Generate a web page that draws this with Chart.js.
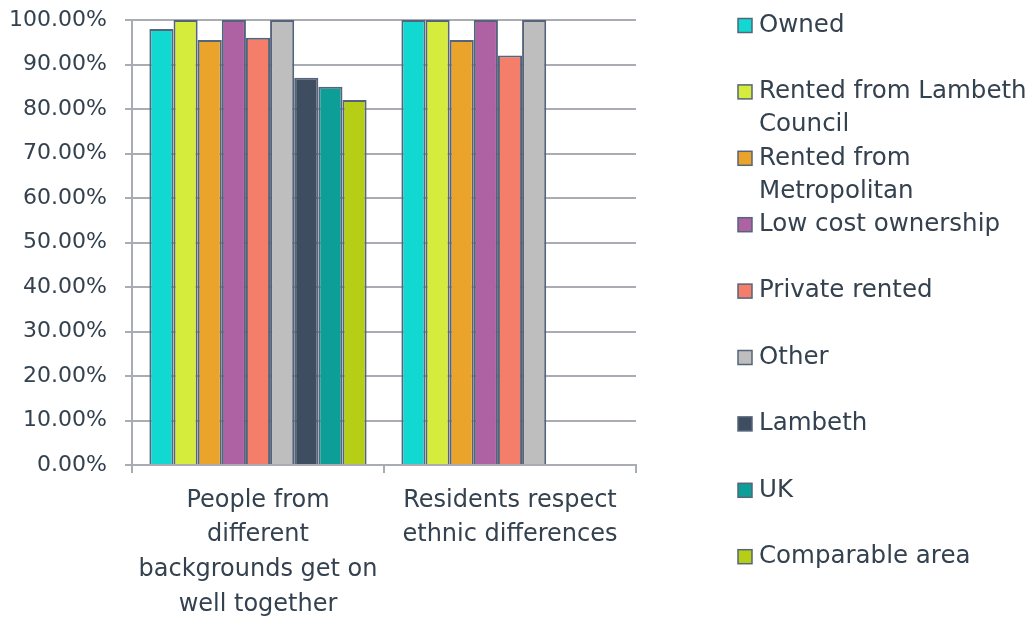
<!DOCTYPE html>
<html>
<head>
<meta charset="utf-8">
<script src="https://cdn.jsdelivr.net/npm/chart.js@4/dist/chart.umd.min.js"></script>
<style>
  html, body { margin: 0; padding: 0; background: #fff; }
  #wrap { width: 1032px; height: 617px; position: relative; }
</style>
</head>
<body>
<div id="wrap"><canvas id="chart"></canvas></div>
<script>
// Survey statements (x categories)
const categories = [
  ['People from', 'different', 'backgrounds get on', 'well together'],
  ['Residents respect', 'ethnic differences']
];

// Tenure groups and comparison areas
const seriesNames = [
  'Owned',
  'Rented from Lambeth Council',
  'Rented from Metropolitan',
  'Low cost ownership',
  'Private rented',
  'Other',
  'Lambeth',
  'UK',
  'Comparable area'
];

const seriesColors = [
  '#12D8D2', '#D5EC3C', '#EAA42C', '#AE62A3', '#F47E6A',
  '#BEBEBE', '#3E4D5F', '#0D9E97', '#B6CF16'
];

// Percent agreeing, per series, for each statement
const owned        = [98.0, 100.0];
const lambethRent  = [100.0, 100.0];
const metropolitan = [95.5, 95.5];
const lowCost      = [100.0, 100.0];
const privateRent  = [96.0, 92.0];
const other        = [100.0, 100.0];
const lambeth      = [87.0, null];
const uk           = [85.0, null];
const comparable   = [82.0, null];

const seriesValues = [owned, lambethRent, metropolitan, lowCost, privateRent, other, lambeth, uk, comparable];

const FONT = 'DejaVu Sans, sans-serif';
const TEXT = '#34414F';
const GRID = '#A9ACB2';
const EDGE = '#55647A';

// Legend drawn down the right side, long names wrapped onto extra lines
const sideLegend = {
  id: 'sideLegend',
  afterDraw(chart) {
    const ctx = chart.ctx;
    const boxX = 738, textX = 759, maxW = 272;
    const firstY = 25.5, step = 66.4, lineH = 33;
    ctx.save();
    ctx.font = '24.5px ' + FONT;
    ctx.textBaseline = 'middle';
    chart.data.datasets.forEach((ds, i) => {
      const cy = firstY + i * step;
      ctx.fillStyle = ds.backgroundColor;
      ctx.fillRect(boxX, cy - 7, 14, 14);
      ctx.strokeStyle = EDGE;
      ctx.lineWidth = 1.5;
      ctx.strokeRect(boxX, cy - 7, 14, 14);
      // word wrap
      const words = ds.label.split(' ');
      const lines = [];
      let cur = '';
      words.forEach(w => {
        const test = cur ? cur + ' ' + w : w;
        if (ctx.measureText(test).width > maxW && cur) {
          lines.push(cur);
          cur = w;
        } else {
          cur = test;
        }
      });
      lines.push(cur);
      ctx.fillStyle = TEXT;
      lines.forEach((ln, j) => ctx.fillText(ln, textX, cy + j * lineH));
    });
    ctx.restore();
  }
};

new Chart(document.getElementById('chart'), {
  type: 'bar',
  data: {
    labels: categories,
    datasets: seriesNames.map((name, i) => ({
      label: name,
      data: seriesValues[i],
      backgroundColor: seriesColors[i],
      borderColor: EDGE,
      borderWidth: 2,
      categoryPercentage: 0.862,
      barPercentage: 1.0
    }))
  },
  options: {
    responsive: true,
    maintainAspectRatio: false,
    animation: false,
    layout: { padding: { top: 20, right: 396, bottom: 0, left: 0 } },
    plugins: {
      legend: { display: false },
      tooltip: { enabled: false }
    },
    scales: {
      x: {
        grid: {
          offset: true,
          drawOnChartArea: false,
          drawTicks: true,
          tickLength: 8,
          color: GRID,
          lineWidth: 2
        },
        border: { display: true, color: GRID, width: 2 },
        ticks: {
          color: TEXT,
          font: { family: FONT, size: 24, lineHeight: 1.45 },
          padding: 10,
          maxRotation: 0,
          autoSkip: false
        },
        afterFit(s) { s.height = 152; }
      },
      y: {
        min: 0,
        max: 100,
        grid: {
          color: GRID,
          lineWidth: 2,
          tickLength: 7
        },
        border: { display: true, color: GRID, width: 2 },
        ticks: {
          stepSize: 10,
          color: TEXT,
          font: { family: FONT, size: 22 },
          padding: 18,
          callback: v => v.toFixed(2) + '%'
        },
        afterFit(s) {
          s.width = 132;
          s.paddingTop = 0;
          s.paddingBottom = 0;
        }
      }
    }
  },
  plugins: [sideLegend]
});
</script>
</body>
</html>
